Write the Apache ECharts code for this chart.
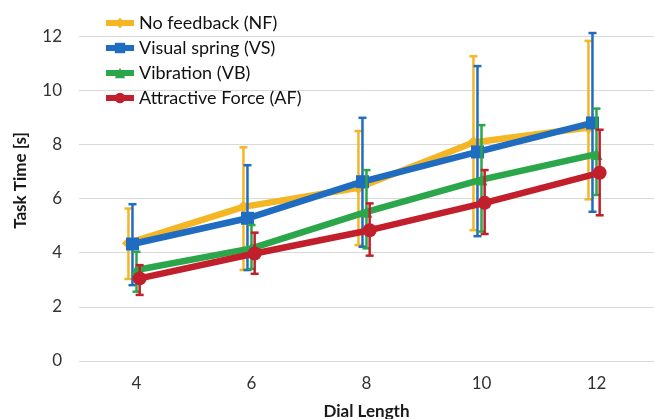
<!DOCTYPE html>
<html>
<head>
<meta charset="utf-8">
<script src="https://cdn.jsdelivr.net/npm/echarts@6/dist/echarts.min.js"></script>
<style>html,body{margin:0;padding:0;background:#fff;}#c{width:654px;height:419px;}</style>
</head>
<body>
<div id="c"></div>
<script>
// ---- data ----
const dialLengths = [4, 6, 8, 10, 12];
const seriesNames = ['No feedback (NF)', 'Visual spring (VS)', 'Vibration (VB)', 'Attractive Force (AF)'];
const nfMean = [4.35, 5.69, 6.40, 8.07, 8.62];
const nfLow  = [3.03, 3.36, 4.28, 4.83, 5.97];
const nfHigh = [5.63, 7.89, 8.49, 11.25, 11.82];
const vsMean = [4.32, 5.27, 6.62, 7.72, 8.79];
const vsLow  = [2.80, 3.36, 4.22, 4.61, 5.51];
const vsHigh = [5.79, 7.23, 8.98, 10.89, 12.11];
const vbMean = [3.36, 4.16, 5.51, 6.70, 7.64];
const vbLow  = [2.56, 3.40, 4.16, 4.78, 6.13];
const vbHigh = [4.03, 5.02, 7.05, 8.71, 9.32];
const afMean = [3.05, 3.97, 4.83, 5.84, 6.95];
const afLow  = [2.44, 3.22, 3.89, 4.69, 5.38];
const afHigh = [3.54, 4.74, 5.82, 7.05, 8.54];
const yTicks = [0, 2, 4, 6, 8, 10, 12];

// ---- presentation ----
const colors = ['#F4B624', '#1F6CC0', '#2BA64A', '#C21F2C'];
const symbols = ['diamond', 'rect', 'triangle', 'circle'];
const symbolSizes = [13, 13, 12, 14];
const dodge = [-0.14, -0.07, 0, 0.055];
const means = [nfMean, vsMean, vbMean, afMean];
const lows = [nfLow, vsLow, vbLow, afLow];
const highs = [nfHigh, vsHigh, vbHigh, afHigh];

const series = [];
seriesNames.forEach((name, i) => {
  series.push({
    name: name,
    type: 'line',
    data: dialLengths.map((x, k) => [x + dodge[i], means[i][k]]),
    symbol: symbols[i],
    symbolSize: symbolSizes[i],
    showSymbol: true,
    lineStyle: { width: 6.5, color: colors[i] },
    itemStyle: { color: colors[i] },
    z: 2 + i,
    animation: false
  });
  series.push({
    name: name,
    type: 'custom',
    data: dialLengths.map((x, k) => [x + dodge[i], lows[i][k], highs[i][k]]),
    encode: { x: 0, y: [1, 2] },
    z: 2 + i,
    animation: false,
    renderItem: function (params, api) {
      const x = api.value(0);
      const lo = api.coord([x, api.value(1)]);
      const hi = api.coord([x, api.value(2)]);
      const cw = 4;
      const st = { stroke: colors[i], lineWidth: 2.5 };
      return {
        type: 'group',
        children: [
          { type: 'line', shape: { x1: lo[0], y1: lo[1], x2: hi[0], y2: hi[1] }, style: st },
          { type: 'line', shape: { x1: lo[0] - cw, y1: lo[1], x2: lo[0] + cw, y2: lo[1] }, style: st },
          { type: 'line', shape: { x1: hi[0] - cw, y1: hi[1], x2: hi[0] + cw, y2: hi[1] }, style: st }
        ]
      };
    }
  });
});

const chart = echarts.init(document.getElementById('c'), null, { renderer: 'canvas' });
chart.setOption({
  backgroundColor: '#ffffff',
  animation: false,
  textStyle: { fontFamily: 'Lato' },
  legend: {
    data: seriesNames,
    orient: 'vertical',
    left: 98,
    top: 9,
    itemWidth: 28,
    itemHeight: 13,
    itemGap: 7,
    lineStyle: { width: 6 },
    textStyle: { fontFamily: 'Lato', fontSize: 18, color: '#111' }
  },
  grid: { left: 79, right: 0, top: 0, bottom: 58, containLabel: false, outerBoundsMode: 'none' },
  xAxis: {
    type: 'value',
    min: 3, max: 13, interval: 1,
    name: 'Dial Length',
    nameLocation: 'middle',
    nameGap: 42,
    nameTextStyle: { fontFamily: 'Lato', fontSize: 17, fontWeight: 'bold', color: '#1a1a1a' },
    axisLine: { show: false },
    axisTick: { show: false },
    splitLine: { show: false },
    axisLabel: {
      fontFamily: 'Lato', fontSize: 17, color: '#333', margin: 14,
      formatter: v => (dialLengths.indexOf(v) >= 0 ? String(v) : '')
    }
  },
  yAxis: {
    type: 'value',
    min: 0, max: 13.33, interval: 2,
    name: 'Task Time [s]',
    nameLocation: 'middle',
    nameGap: 50,
    nameRotate: 90,
    nameTextStyle: { fontFamily: 'Lato', fontSize: 17, fontWeight: 'bold', color: '#1a1a1a' },
    axisLine: { show: false },
    axisTick: { show: false },
    splitLine: { showMaxLine: false, lineStyle: { color: '#d9d9d9', width: 1 } },
    axisLabel: {
      fontFamily: 'Lato', fontSize: 17, color: '#333', margin: 17,
      formatter: v => (yTicks.indexOf(v) >= 0 ? String(v) : '')
    }
  },
  series: series
});
</script>
</body>
</html>
